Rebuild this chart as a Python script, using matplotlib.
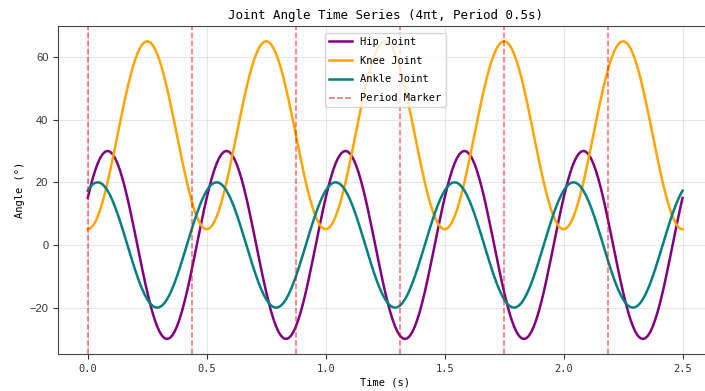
import numpy as np
import matplotlib
matplotlib.use("Agg")
import matplotlib.pyplot as plt

# one gait cycle (0.5 s) sampled every 1/96 s, angles in degrees
hip_cycle = [15.00, 18.26, 21.21, 23.80, 25.98, 27.72, 28.98, 29.74,
             30.00, 29.74, 28.98, 27.72, 25.98, 23.80, 21.21, 18.26,
             15.00, 11.48, 7.76, 3.92, 0.00, -3.92, -7.76, -11.48,
             -15.00, -18.26, -21.21, -23.80, -25.98, -27.72, -28.98, -29.74,
             -30.00, -29.74, -28.98, -27.72, -25.98, -23.80, -21.21, -18.26,
             -15.00, -11.48, -7.76, -3.92, 0.00, 3.92, 7.76, 11.48]
knee_cycle = [5.00, 5.26, 6.02, 7.28, 9.02, 11.20, 13.79, 16.74,
              20.00, 23.52, 27.24, 31.08, 35.00, 38.92, 42.76, 46.48,
              50.00, 53.26, 56.21, 58.80, 60.98, 62.72, 63.98, 64.74,
              65.00, 64.74, 63.98, 62.72, 60.98, 58.80, 56.21, 53.26,
              50.00, 46.48, 42.76, 38.92, 35.00, 31.08, 27.24, 23.52,
              20.00, 16.74, 13.79, 11.20, 9.02, 7.28, 6.02, 5.26]
ankle_cycle = [17.32, 18.48, 19.32, 19.83, 20.00, 19.83, 19.32, 18.48,
               17.32, 15.87, 14.14, 12.18, 10.00, 7.65, 5.18, 2.61,
               0.00, -2.61, -5.18, -7.65, -10.00, -12.18, -14.14, -15.87,
               -17.32, -18.48, -19.32, -19.83, -20.00, -19.83, -19.32, -18.48,
               -17.32, -15.87, -14.14, -12.18, -10.00, -7.65, -5.18, -2.61,
               0.00, 2.61, 5.18, 7.65, 10.00, 12.18, 14.14, 15.87]
n_cycles = 5
sample_step = 1 / 96
period_markers = [0.0, 0.4375, 0.875, 1.3125, 1.75, 2.1875]


def full_series(cycle):
    # repeat the cycle and close it with the first sample
    vals = list(cycle) * n_cycles
    vals.append(cycle[0])
    return np.array(vals)


hip = full_series(hip_cycle)
knee = full_series(knee_cycle)
ankle = full_series(ankle_cycle)
t = np.arange(len(hip)) * sample_step

mono = "DejaVu Sans Mono"

fig = plt.figure(figsize=(7.05, 3.91), dpi=100)
ax = fig.add_axes([0.0823, 0.0949, 0.928, 0.8378])

ax.plot(t, hip, color="purple", lw=1.8, label="Hip Joint")
ax.plot(t, knee, color="orange", lw=1.8, label="Knee Joint")
ax.plot(t, ankle, color="teal", lw=1.8, label="Ankle Joint")
for i, m in enumerate(period_markers):
    ax.axvline(m, color="red", ls="--", alpha=0.6, lw=1.1,
               label="Period Marker" if i == 0 else None)

ax.set_title("Joint Angle Time Series (4πt, Period 0.5s)", family=mono, fontsize=9, pad=5)
ax.set_xlabel("Time (s)", family=mono, fontsize=7.5, labelpad=3)
ax.set_ylabel("Angle (°)", family=mono, fontsize=7.5, labelpad=3)
ax.grid(True, alpha=0.3)
ax.set_xticks([0, 0.5, 1.0, 1.5, 2.0, 2.5])
ax.set_yticks([-20, 0, 20, 40, 60])
for lbl in ax.get_xticklabels():
    lbl.set_family(mono)
    lbl.set_fontsize(7.5)
for lbl in ax.get_yticklabels():
    lbl.set_family("Liberation Sans")
    lbl.set_fontsize(8)
for s in ax.spines.values():
    s.set_color("#444444")
ax.tick_params(colors="#333333", length=3.5)

ax.legend(loc="upper center", prop={"family": mono, "size": 7.5},
          handlelength=2.2, borderaxespad=0.6, labelspacing=0.85)

fig.savefig("out.png", dpi=100)
